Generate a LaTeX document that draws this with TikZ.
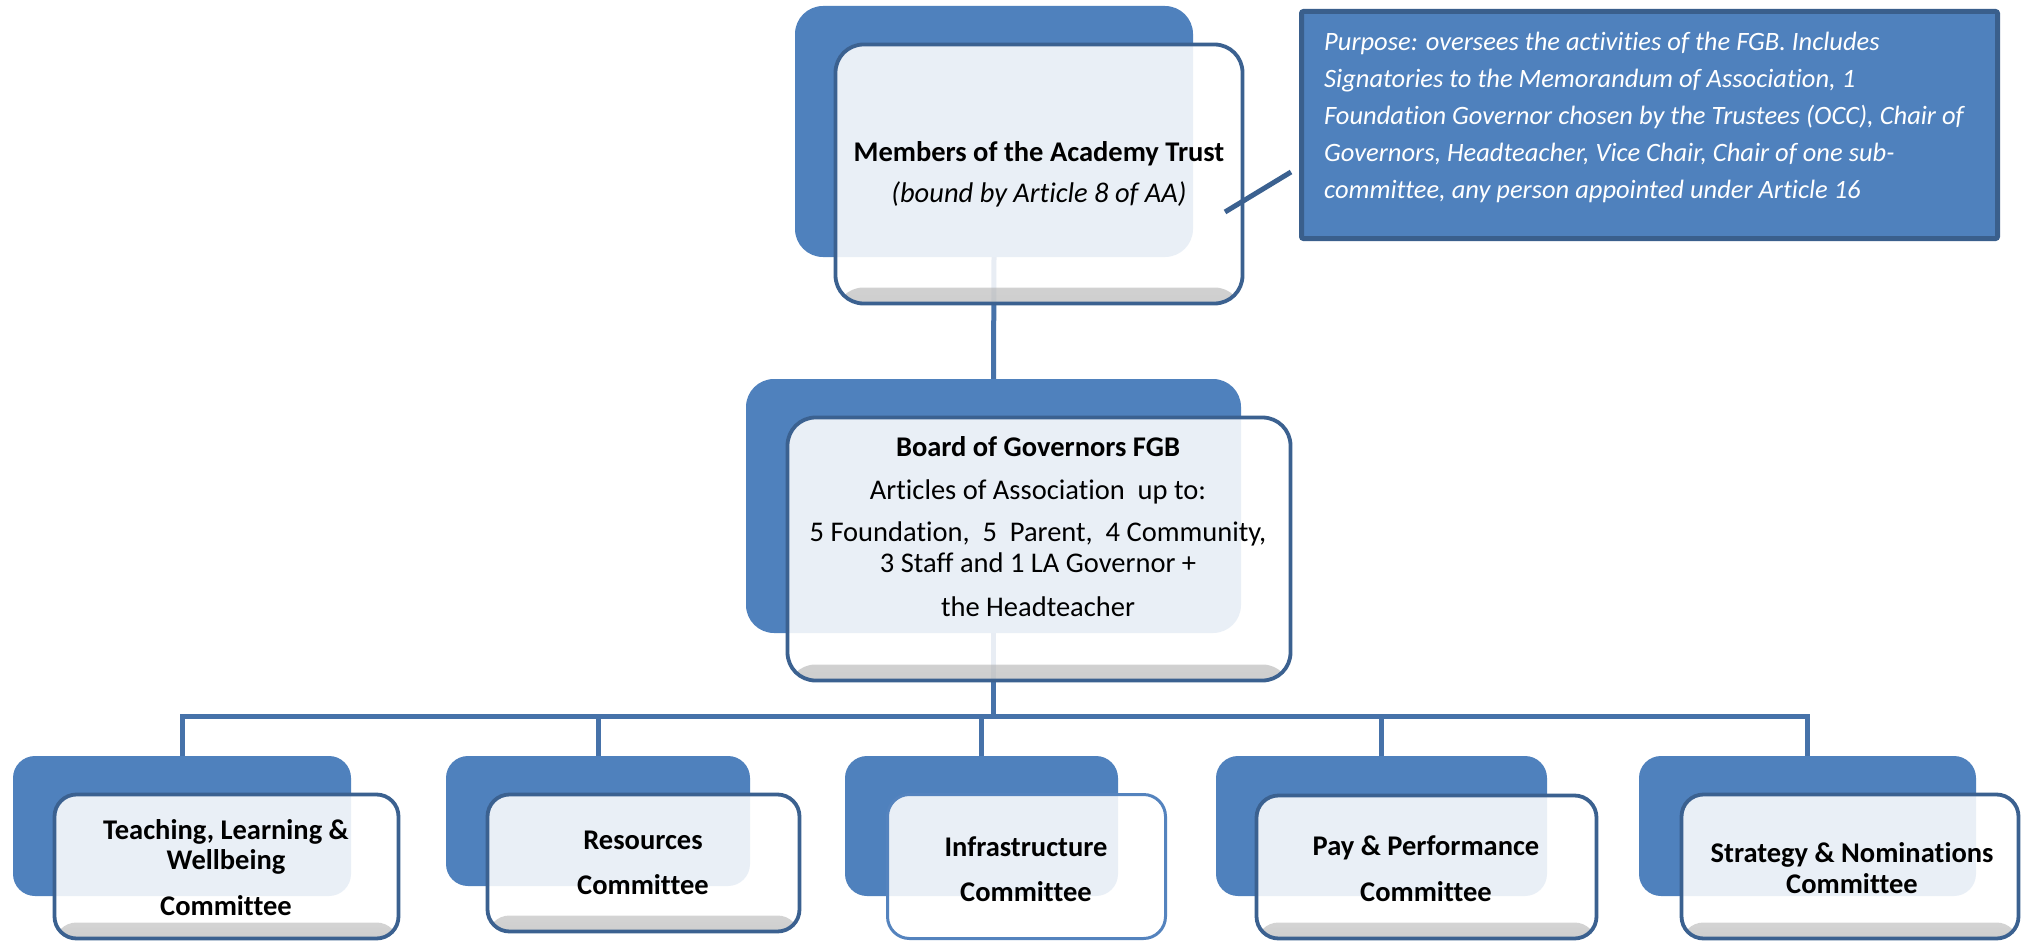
\documentclass[tikz,border=0pt]{standalone}
\usepackage{fontspec}
\setmainfont{Carlito}[Ligatures=NoCommon]
\definecolor{backblue}{RGB}{79,129,189}
\definecolor{bordercol}{RGB}{59,97,144}
\definecolor{conncol}{RGB}{70,114,169}
\definecolor{purposeborder}{RGB}{58,95,140}
\definecolor{lightborder}{RGB}{84,131,190}
\begin{document}
\begin{tikzpicture}[x=1pt,y=-1pt,
  backrect/.style={fill=backblue, rounded corners=#1, inner sep=0pt, draw=none},
  backrect/.default=22pt,
  frontbox/.style={rounded corners=#1, draw=bordercol, line width=3.8pt, fill=white, fill opacity=0.88, draw opacity=1, inner sep=0pt,
    path picture={\shade[top color=white, bottom color=black!35, fill opacity=0.55]
      ([yshift=-2pt]path picture bounding box.south west) rectangle ([yshift=16pt]path picture bounding box.south east);}},
  frontbox/.default=22pt,
  plainfront/.style={rounded corners=22pt, draw=lightborder, line width=3pt, fill=white, fill opacity=0.88, draw opacity=1, inner sep=0pt},
  conn/.style={draw=conncol, line width=5pt},
  boxtext/.style={align=center, anchor=base, inner sep=0pt, font=\fontsize{28.5}{30}\selectfont},
  purposebox/.style={fill=backblue, draw=purposeborder, line width=5pt, rounded corners=2pt, inner sep=0pt},
  purposetext/.style={align=left, anchor=base west, inner sep=0pt, text=white, font=\fontsize{26.5}{37}\selectfont\itshape}
]
\useasboundingbox (0,0) rectangle (2022,942);
\fill[white] (0,0) rectangle (2022,942);

% back rectangles
\node[backrect=28pt, minimum width=398pt, minimum height=251pt] (topback) at (994,131.5) {};
\node[backrect=28pt, minimum width=495pt, minimum height=254pt] (boardback) at (993.5,506) {};
\node[backrect, minimum width=338pt, minimum height=140pt] (c1back) at (182,826) {};
\node[backrect, minimum width=304pt, minimum height=130pt] (c2back) at (598,821) {};
\node[backrect, minimum width=273pt, minimum height=140pt] (c3back) at (981.5,826) {};
\node[backrect, minimum width=331pt, minimum height=140pt] (c4back) at (1381.5,826) {};
\node[backrect, minimum width=337pt, minimum height=140pt] (c5back) at (1807.5,826) {};

% connectors
\coordinate (barL) at (182,716);
\draw[conn] (topback.south) -- (boardback.north);
\draw[conn] (boardback.south) -- (boardback.south |- barL);
\draw[conn, line join=miter] (c1back.north) -- (c1back.north |- barL) -- (c5back.north |- barL) -- (c5back.north);
\draw[conn] (c2back.north |- barL) -- (c2back.north);
\draw[conn] (c3back.north |- barL) -- (c3back.north);
\draw[conn] (c4back.north |- barL) -- (c4back.north);

% front boxes
\node[frontbox=28pt, minimum width=407pt, minimum height=259pt] (top) at (1039,174) {};
\node[frontbox=28pt, minimum width=503pt, minimum height=263pt] (board) at (1039,549) {};
\node[frontbox, minimum width=344pt, minimum height=144pt] (c1) at (226.5,866.5) {};
\node[frontbox, minimum width=312pt, minimum height=137pt] (c2) at (643.5,863) {};
\node[plainfront, minimum width=278pt, minimum height=144pt] (c3) at (1026.5,866.5) {};
\node[frontbox, minimum width=340pt, minimum height=143pt] (c4) at (1426.5,867) {};
\node[frontbox, minimum width=337pt, minimum height=144pt] (c5) at (1850,866.5) {};

% purpose box
\node[purposebox, minimum width=696pt, minimum height=227pt] (purpose) at (1649.5,125) {};

% texts (anchored at the baseline of their last line)
\node[boxtext] (topT) at (1039,202) {\textbf{Members of the Academy Trust}\\[11pt]\textit{(bound by Article 8 of AA)}};
\node[boxtext] (boardT) at (1038,616) {\textbf{Board of Governors FGB}\\[13pt]Articles of Association\ \ up to:\\[12pt]5 Foundation,\ \ 5\ \ Parent,\ \ 4 Community,\\[1pt]3 Staff and 1 LA Governor +\\[14pt]the Headteacher};
\node[boxtext, font=\fontsize{28.5}{30}\selectfont\bfseries] (c1T) at (226,915) {Teaching, Learning \&\\Wellbeing\\[16pt]Committee};
\node[boxtext, font=\fontsize{28.5}{30}\selectfont\bfseries] (c2T) at (643,894) {Resources\\[15pt]Committee};
\node[boxtext, font=\fontsize{28.5}{30}\selectfont\bfseries] (c3T) at (1026,901) {Infrastructure\\[15pt]Committee};
\node[boxtext, font=\fontsize{28.5}{30}\selectfont\bfseries] (c4T) at (1426,901) {Pay \& Performance\\[16pt]Committee};
\node[boxtext, font=\fontsize{28.5}{30}\selectfont\bfseries] (c5T) at (1852,893) {Strategy \& Nominations\\[1pt]Committee};
\node[purposetext] (purposeT) at (1324,198) {Purpose: oversees the activities of the FGB. Includes\\Signatories to the Memorandum of Association, 1\\Foundation Governor chosen by the Trustees (OCC), Chair of\\Governors, Headteacher, Vice Chair, Chair of one sub-\\committee, any person appointed under Article 16};

% link to purpose box
\coordinate (d1) at (1225,212);
\coordinate (d2) at (1291,172);
\draw[conn, draw=bordercol] (d1) -- (d2);
\end{tikzpicture}
\end{document}
